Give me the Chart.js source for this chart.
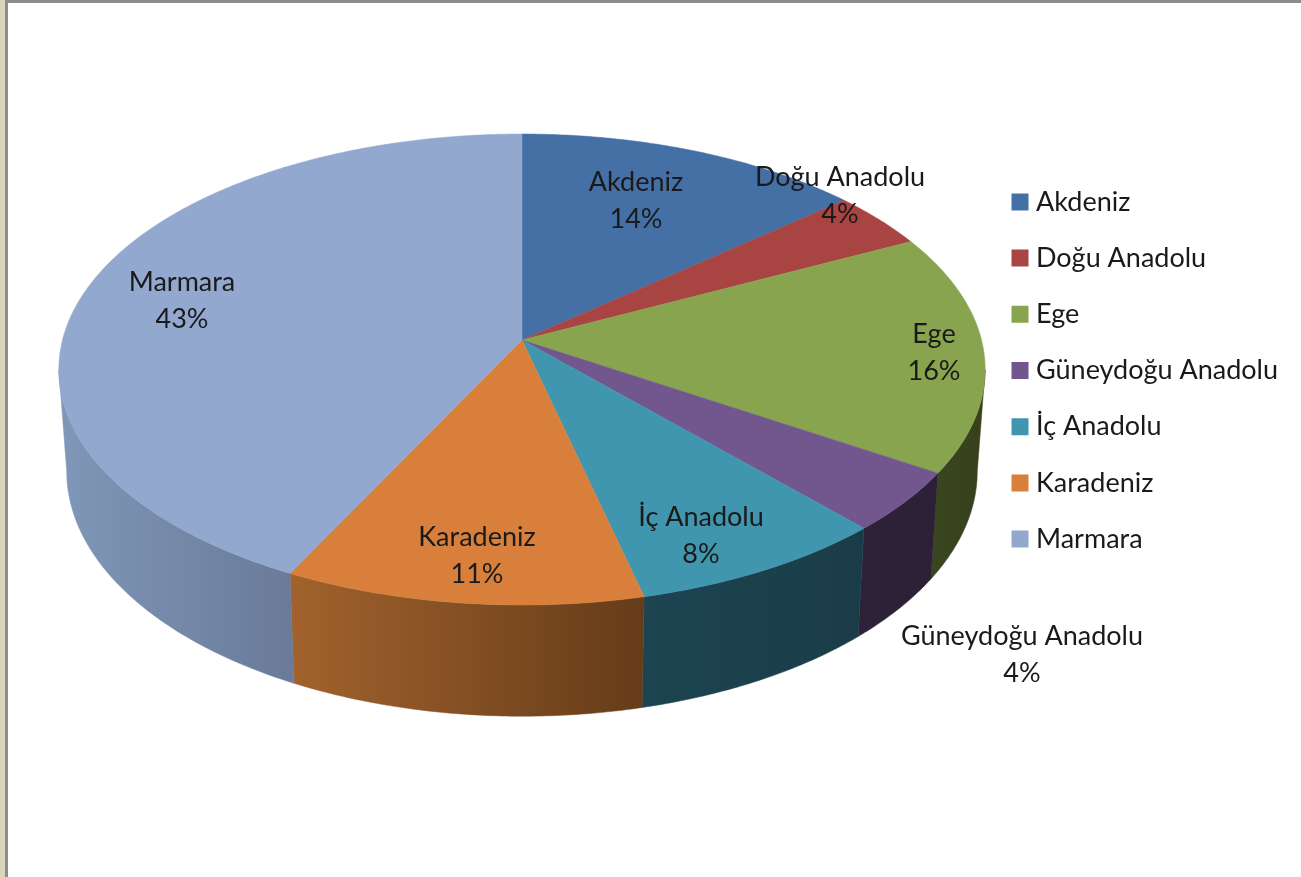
<!DOCTYPE html>
<html>
<head>
<meta charset="utf-8">
<title>Bölgeler</title>
<style>
    html, body { margin: 0; padding: 0; width: 1301px; height: 877px; overflow: hidden; background: #d8d5bd; }
    #sheet { position: absolute; left: 5px; top: 0; width: 1296px; height: 877px; background: #fff;
             border-left: 3px solid #8c8c8c; border-top: 3px solid #8c8c8c; box-sizing: border-box; }
    #chart { position: absolute; left: 0; top: 0; filter: blur(0.45px); }
</style>
<script src="https://cdn.jsdelivr.net/npm/chart.js@4"></script>
</head>
<body>
<div id="sheet"></div>
<canvas id="chart" width="1301" height="877"></canvas>
<script>
// Values (percent of total)
const regions = ['Akdeniz', 'Doğu Anadolu', 'Ege', 'Güneydoğu Anadolu', 'İç Anadolu', 'Karadeniz', 'Marmara'];
const shares = [13.7, 3.9, 16.4, 4.2, 8.05, 11.15, 42.6];

const topColors = ['#4470a6', '#a84543', '#88a44e', '#71578e', '#4096ae', '#d8803b', '#93a8cf'];
const wallLeftColors = ['#2b4566', '#682a29', '#3a4620', '#2d2238', '#1c4551', '#a2622d', '#7f97b8'];
const wallRightColors = ['#2b4566', '#682a29', '#36411c', '#2b2036', '#1a3c48', '#653c19', '#6a7a99'];

// Where each data label is centred
const labelSpots = [[636, 200], [840, 195], [934, 352], [1022, 654], [701, 535], [477, 555], [182, 300]];

// Perspective of the disc
const view = { cx: 522, cy: 340, a: 459.5, b: 231.8, k: 0.1253, wallScale: 0.983, wallStretch: 1.04, wallDrop: 87 };
const fontFamily = 'Lato, sans-serif';

function project(angle) {
    const u = Math.cos(angle);
    const v = Math.sin(angle);
    const w = 1 - view.k * v;
    return { x: view.cx + view.a * u / w, y: view.cy + view.b * v / w };
}

function projectBottom(angle) {
    const p = project(angle);
    return {
        x: view.cx + (p.x - view.cx) * view.wallScale,
        y: p.y * view.wallStretch + view.wallDrop
    };
}

function arcPoints(start, end, fn) {
    const steps = Math.max(2, Math.ceil((end - start) / 0.01));
    const pts = [];
    for (let i = 0; i <= steps; i++) {
        pts.push(fn(start + (end - start) * i / steps));
    }
    return pts;
}

function tracePath(ctx, pts) {
    ctx.beginPath();
    pts.forEach((p, i) => {
        if (i === 0) ctx.moveTo(p.x, p.y);
        else ctx.lineTo(p.x, p.y);
    });
    ctx.closePath();
}

// Chart.js gives the slice angles, this plugin paints them as a tilted 3D disc
const tiltedPie = {
    id: 'tiltedPie',
    beforeDatasetsDraw(chart) {
        const ctx = chart.ctx;
        const arcs = chart.getDatasetMeta(0).data;
        const frontStart = Math.asin(view.k);
        const frontEnd = Math.PI - frontStart;

        ctx.save();
        // walls first, only the part of the rim facing us
        arcs.forEach((arc, i) => {
            for (const shift of [0, Math.PI * 2]) {
                const start = Math.max(arc.startAngle, frontStart + shift);
                const end = Math.min(arc.endAngle, frontEnd + shift);
                if (end <= start) continue;
                const top = arcPoints(start, end, project);
                const bottom = arcPoints(start, end, projectBottom);
                const pts = top.concat(bottom.reverse());
                const xs = pts.map(p => p.x);
                const grad = ctx.createLinearGradient(Math.min(...xs), 0, Math.max(...xs), 0);
                grad.addColorStop(0, wallLeftColors[i]);
                grad.addColorStop(1, wallRightColors[i]);
                tracePath(ctx, pts);
                ctx.fillStyle = grad;
                ctx.strokeStyle = grad;
                ctx.lineWidth = 0.5;
                ctx.fill();
                ctx.stroke();
            }
        });
        // then the top of each slice
        arcs.forEach((arc, i) => {
            const pts = [{ x: view.cx, y: view.cy }].concat(arcPoints(arc.startAngle, arc.endAngle, project));
            tracePath(ctx, pts);
            ctx.fillStyle = topColors[i];
            ctx.strokeStyle = topColors[i];
            ctx.lineWidth = 0.5;
            ctx.fill();
            ctx.stroke();
        });
        ctx.restore();
        return false;
    },
    // returning false above also skips afterDatasetsDraw, so labels go here
    afterDraw(chart) {
        const ctx = chart.ctx;
        const total = shares.reduce((a, b) => a + b, 0);
        ctx.save();
        ctx.font = '27px ' + fontFamily;
        ctx.fillStyle = '#1a1a1a';
        ctx.textAlign = 'center';
        ctx.textBaseline = 'middle';
        regions.forEach((name, i) => {
            const [x, y] = labelSpots[i];
            ctx.fillText(name, x, y - 18);
            ctx.fillText(Math.round(shares[i] / total * 100) + '%', x, y + 19);
        });
        ctx.restore();
    }
};

const chart = new Chart(document.getElementById('chart').getContext('2d'), {
    type: 'pie',
    plugins: [tiltedPie],
    data: {
        labels: regions,
        datasets: [{
            data: shares,
            backgroundColor: topColors,
            borderWidth: 0
        }]
    },
    options: {
        responsive: false,
        animation: false,
        layout: { padding: { right: 13, bottom: 136 } },
        plugins: {
            tooltip: { enabled: false },
            legend: {
                position: 'right',
                labels: {
                    color: '#1a1a1a',
                    font: { family: fontFamily, size: 27 },
                    usePointStyle: true,
                    pointStyle: 'rect',
                    boxWidth: 5,
                    boxHeight: 17,
                    padding: 29.2
                }
            }
        }
    }
});
</script>
</body>
</html>
